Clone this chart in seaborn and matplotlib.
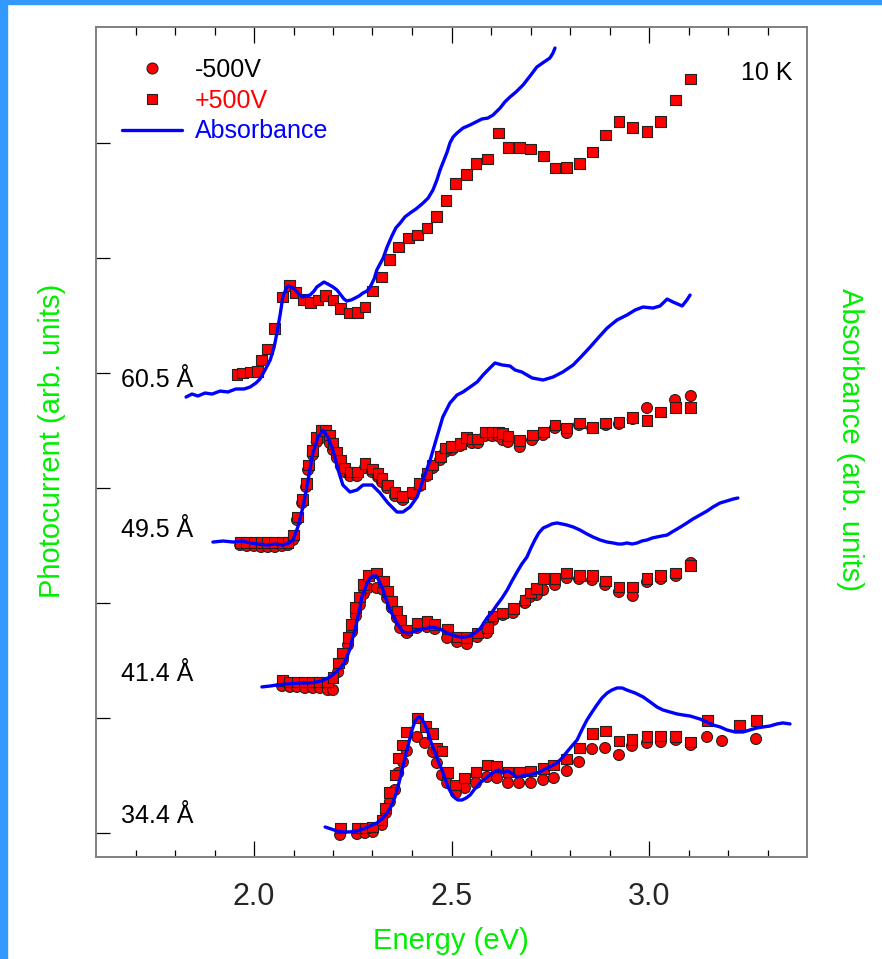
import numpy as np
import pandas as pd
import matplotlib
matplotlib.use("Agg")
import matplotlib.pyplot as plt
from matplotlib.lines import Line2D
from matplotlib.patches import Rectangle
from matplotlib.ticker import FormatStrFormatter
import seaborn as sns

# ---------------- data (energy in eV, signal in arb. units, curves offset) ----------------
E60_abs = [1.828,1.843,1.858,1.876,1.894,1.914,1.934,1.954,1.975,1.990,
           2.005,2.015,2.028,2.041,2.051,2.058,2.066,2.073,2.081,2.086,
           2.094,2.099,2.109,2.122,2.132,2.142,2.152,2.159,2.170,2.177,
           2.187,2.200,2.210,2.218,2.228,2.235,2.246,2.256,2.266,2.276,
           2.286,2.294,2.304,2.311,2.319,2.327,2.337,2.349,2.359,2.370,
           2.382,2.395,2.410,2.428,2.441,2.453,2.463,2.471,2.478,2.489,
           2.496,2.504,2.514,2.529,2.547,2.562,2.577,2.592,2.605,2.623,
           2.635,2.648,2.663,2.681,2.699,2.716,2.734,2.749,2.757,2.762]
Y60_abs = [3.791,3.817,3.800,3.826,3.817,3.843,3.835,3.861,3.861,3.878,
           3.913,3.948,4.026,4.113,4.226,4.348,4.504,4.661,4.730,4.757,
           4.748,4.739,4.704,4.661,4.670,4.678,4.713,4.748,4.774,4.791,
           4.774,4.748,4.722,4.687,4.643,4.626,4.635,4.652,4.670,4.696,
           4.713,4.748,4.817,4.896,4.948,5.000,5.096,5.191,5.261,5.304,
           5.357,5.391,5.426,5.478,5.522,5.591,5.678,5.765,5.826,5.922,
           6.000,6.052,6.087,6.130,6.157,6.183,6.209,6.217,6.243,6.304,
           6.357,6.400,6.443,6.504,6.583,6.661,6.704,6.739,6.783,6.826]

E60_pts = [1.957,1.972,1.990,2.008,2.020,2.035,2.053,2.071,2.089,2.106,
           2.124,2.144,2.162,2.180,2.200,2.220,2.241,2.261,2.281,2.301,
           2.322,2.344,2.367,2.390,2.413,2.438,2.461,2.486,2.511,2.537,
           2.562,2.590,2.618,2.643,2.671,2.701,2.732,2.762,2.792,2.825,
           2.856,2.891,2.924,2.959,2.995,3.030,3.068,3.106]
Y60_plus = [3.983,4.000,4.009,4.017,4.113,4.209,4.383,4.661,4.757,4.704,
            4.643,4.617,4.635,4.678,4.635,4.557,4.522,4.530,4.574,4.713,
            4.835,4.991,5.096,5.174,5.200,5.261,5.357,5.504,5.652,5.730,
            5.826,5.861,6.087,5.965,5.965,5.948,5.887,5.783,5.791,5.826,
            5.922,6.070,6.191,6.139,6.104,6.191,6.374,6.557]

E49_abs = [1.896,1.922,1.947,1.970,1.990,2.010,2.033,2.053,2.073,2.089,
           2.099,2.111,2.124,2.137,2.149,2.162,2.175,2.187,2.200,2.213,
           2.225,2.243,2.261,2.276,2.299,2.319,2.339,2.362,2.377,2.395,
           2.413,2.428,2.446,2.463,2.478,2.496,2.514,2.529,2.547,2.565,
           2.580,2.597,2.610,2.628,2.648,2.661,2.678,2.704,2.732,2.757,
           2.782,2.808,2.830,2.851,2.871,2.894,2.919,2.944,2.965,2.985,
           3.010,3.028,3.046,3.061,3.084,3.096,3.104]
Y49_abs = [2.530,2.539,2.530,2.539,2.522,2.513,2.504,2.513,2.504,2.522,
           2.548,2.661,2.835,3.070,3.304,3.443,3.504,3.443,3.330,3.157,
           3.026,2.965,2.983,3.026,3.026,2.957,2.870,2.791,2.791,2.835,
           2.922,3.070,3.243,3.443,3.617,3.739,3.809,3.835,3.878,3.922,
           3.983,4.043,4.087,4.070,4.061,4.026,4.009,3.957,3.939,3.965,
           4.009,4.070,4.148,4.226,4.304,4.391,4.461,4.504,4.548,4.574,
           4.565,4.583,4.643,4.617,4.583,4.635,4.678]

E49_pts = [1.965,1.982,2.000,2.018,2.035,2.053,2.071,2.086,2.099,2.109,
           2.122,2.132,2.137,2.149,2.159,2.170,2.182,2.192,2.200,2.210,
           2.220,2.230,2.243,2.261,2.281,2.299,2.314,2.324,2.337,2.357,
           2.377,2.400,2.420,2.438,2.453,2.471,2.484,2.501,2.522,2.539,
           2.552,2.567,2.585,2.603,2.618,2.630,2.643,2.673,2.704,2.732,
           2.762,2.792,2.823,2.856,2.891,2.924,2.959,2.995,3.030,3.066,
           3.106]
Y49_plus = [2.530,2.530,2.530,2.522,2.522,2.522,2.522,2.530,2.591,2.748,
            2.896,3.043,3.200,3.330,3.443,3.504,3.504,3.461,3.391,3.313,
            3.243,3.174,3.139,3.139,3.209,3.165,3.130,3.087,3.026,2.957,
            2.922,2.965,3.043,3.130,3.200,3.270,3.348,3.357,3.391,3.443,
            3.426,3.426,3.487,3.487,3.487,3.470,3.452,3.417,3.461,3.487,
            3.548,3.522,3.565,3.530,3.565,3.574,3.609,3.583,3.661,3.704,
            3.696]
Y49_minus = [2.504,2.496,2.496,2.487,2.487,2.487,2.496,2.504,2.548,2.722,
             2.870,3.009,3.157,3.287,3.400,3.443,3.435,3.391,3.330,3.261,
             3.191,3.139,3.104,3.104,3.174,3.139,3.096,3.052,3.000,2.930,
             2.896,2.948,3.017,3.104,3.174,3.243,3.313,3.330,3.365,3.409,
             3.391,3.391,3.452,3.452,3.452,3.417,3.400,3.357,3.417,3.461,
             3.522,3.478,3.548,3.522,3.548,3.557,3.600,3.696,np.nan,3.765,
             3.800]

E41_abs = [2.020,2.041,2.058,2.086,2.116,2.137,2.159,2.177,2.192,2.205,
           2.218,2.228,2.235,2.243,2.248,2.256,2.261,2.268,2.273,2.281,
           2.286,2.294,2.299,2.309,2.314,2.319,2.327,2.332,2.339,2.344,
           2.354,2.362,2.370,2.377,2.390,2.403,2.415,2.428,2.441,2.451,
           2.461,2.471,2.484,2.496,2.509,2.522,2.534,2.547,2.559,2.572,
           2.590,2.603,2.615,2.628,2.641,2.653,2.666,2.678,2.691,2.701,
           2.711,2.721,2.732,2.744,2.754,2.767,2.780,2.792,2.808,2.825,
           2.843,2.858,2.876,2.894,2.909,2.922,2.932,2.944,2.957,2.970,
           2.982,2.995,3.008,3.020,3.033,3.046,3.058,3.071,3.084,3.096,
           3.111,3.129,3.147,3.162,3.180,3.197,3.213,3.225]
Y41_abs = [1.270,1.278,1.287,1.296,1.304,1.304,1.313,1.330,1.357,1.391,
           1.435,1.478,1.530,1.600,1.678,1.765,1.852,1.957,2.052,2.122,
           2.174,2.217,2.235,2.235,2.209,2.174,2.113,2.052,1.991,1.939,
           1.878,1.826,1.783,1.748,1.739,1.748,1.765,1.774,1.783,1.791,
           1.783,1.774,1.748,1.730,1.713,1.704,1.704,1.713,1.739,1.774,
           1.870,1.922,1.983,2.043,2.113,2.191,2.270,2.339,2.400,2.478,
           2.548,2.609,2.652,2.670,2.687,2.696,2.687,2.678,2.661,2.635,
           2.600,2.574,2.548,2.530,2.522,2.513,2.513,2.522,2.513,2.522,
           2.539,2.548,2.565,2.574,2.583,2.591,2.617,2.643,2.670,2.696,
           2.730,2.765,2.800,2.835,2.870,2.887,2.904,2.913]

E41_pts = [2.071,2.091,2.109,2.129,2.149,2.167,2.187,2.200,2.213,2.225,
           2.238,2.248,2.258,2.268,2.278,2.289,2.311,2.327,2.337,2.349,
           2.362,2.370,2.387,2.413,2.438,2.458,2.489,2.514,2.539,2.565,
           2.590,2.605,2.630,2.656,2.686,2.699,2.716,2.732,2.762,2.792,
           2.823,2.856,2.889,2.924,2.959,2.995,3.030,3.068,3.106]
Y41_plus = [1.322,1.313,1.313,1.313,1.313,1.313,1.313,1.348,1.478,1.565,
            1.696,1.809,1.957,2.052,2.157,2.235,2.261,2.183,2.096,2.009,
            1.922,1.852,1.765,1.826,1.835,1.809,1.774,1.704,1.696,1.739,
            1.783,1.887,1.913,1.948,2.026,2.087,2.130,2.209,2.209,2.261,
            2.243,2.235,2.191,2.139,2.139,2.209,2.235,2.261,2.322]
Y41_minus = [1.278,1.270,1.270,1.261,1.261,1.261,1.243,1.243,1.400,1.504,
             1.635,1.748,1.887,1.983,2.078,2.130,2.130,2.113,2.043,1.957,
             1.870,1.783,1.739,1.783,1.791,1.774,1.696,1.661,1.643,1.704,
             1.739,1.852,1.896,1.913,2.000,2.052,2.070,2.113,2.157,2.217,
             2.209,2.200,2.157,2.096,2.061,2.183,2.209,2.235,2.348]

E34_abs = [2.180,2.195,2.210,2.225,2.243,2.261,2.276,2.294,2.311,2.324,
           2.337,2.347,2.357,2.365,2.375,2.382,2.387,2.395,2.400,2.408,
           2.413,2.420,2.425,2.433,2.441,2.448,2.458,2.466,2.476,2.484,
           2.491,2.501,2.509,2.516,2.527,2.537,2.547,2.559,2.572,2.585,
           2.597,2.608,2.618,2.630,2.641,2.648,2.658,2.666,2.678,2.691,
           2.706,2.724,2.737,2.749,2.767,2.780,2.792,2.805,2.818,2.830,
           2.843,2.856,2.868,2.881,2.894,2.906,2.919,2.932,2.944,2.965,
           2.985,3.003,3.020,3.035,3.053,3.071,3.086,3.104,3.129,3.147,
           3.162,3.180,3.197,3.218,3.238,3.256,3.273,3.289,3.306,3.324,
           3.339,3.357]
Y34_abs = [0.052,0.035,0.017,0.009,0.009,0.017,0.035,0.061,0.087,0.122,
           0.174,0.235,0.313,0.409,0.548,0.652,0.722,0.826,0.896,0.974,
           1.000,1.009,0.991,0.939,0.870,0.791,0.704,0.626,0.548,0.470,
           0.400,0.339,0.304,0.287,0.287,0.304,0.330,0.383,0.435,0.470,
           0.504,0.530,0.548,0.522,0.539,0.530,0.504,0.487,0.496,0.504,
           0.513,0.530,0.557,0.574,0.609,0.652,0.704,0.757,0.809,0.896,
           0.983,1.052,1.113,1.174,1.217,1.243,1.261,1.261,1.243,1.217,
           1.183,1.139,1.096,1.070,1.052,1.035,1.026,1.017,0.991,0.965,
           0.939,0.922,0.896,0.878,0.878,0.896,0.913,0.922,0.930,0.948,
           0.957,0.948]

E34_pts = [2.218,2.261,2.281,2.301,2.324,2.334,2.344,2.357,2.365,2.377,
           2.387,2.413,2.433,2.453,2.463,2.476,2.489,2.511,2.534,2.562,
           2.590,2.615,2.643,2.671,2.701,2.732,2.759,2.792,2.823,2.856,
           2.889,2.924,2.957,2.995,3.030,3.068,3.106,3.147,3.185,3.228,
           3.271]
Y34_plus = [0.043,0.043,0.043,0.052,0.113,0.217,0.348,0.504,0.652,0.765,
            0.878,1.000,0.922,0.861,0.739,0.713,0.522,0.417,0.478,0.530,
            0.591,0.574,0.530,0.530,0.539,0.557,0.591,0.643,0.739,0.861,
            0.887,0.800,0.809,0.835,0.843,0.835,0.791,0.974,np.nan,0.939,
            0.974]
Y34_minus = [-0.017,-0.009,0.000,0.009,0.070,0.174,0.270,0.374,0.522,0.617,
             0.713,0.835,0.783,0.704,0.609,0.504,0.435,0.348,0.391,0.435,
             0.487,0.478,0.435,0.435,0.435,0.461,0.478,0.539,0.617,0.730,
             0.739,0.678,0.757,0.783,0.791,0.809,0.765,0.835,0.800,np.nan,
             0.817]

sample_names = ["60.5 Å", "49.5 Å", "41.4 Å", "34.4 Å"]
label_y = [3.878, 2.574, 1.322, 0.087]
label_x = 1.663

# ---------------- tidy tables ----------------
abs_sets = [(E60_abs, Y60_abs), (E49_abs, Y49_abs), (E41_abs, Y41_abs), (E34_abs, Y34_abs)]
pt_sets = [(E60_pts, None, Y60_plus), (E49_pts, Y49_minus, Y49_plus),
           (E41_pts, Y41_minus, Y41_plus), (E34_pts, Y34_minus, Y34_plus)]

abs_df = pd.concat([pd.DataFrame({"energy": e, "signal": y, "sample": n})
                    for (e, y), n in zip(abs_sets, sample_names)], ignore_index=True)

rows = []
for (e, ym, yp), n in zip(pt_sets, sample_names):
    if ym is not None:
        rows.append(pd.DataFrame({"energy": e, "signal": ym, "bias": "-500V", "sample": n}))
for (e, ym, yp), n in zip(pt_sets, sample_names):
    rows.append(pd.DataFrame({"energy": e, "signal": yp, "bias": "+500V", "sample": n}))
pts_df = pd.concat(rows, ignore_index=True).dropna()

# ---------------- style ----------------
sns.set_style("white")
plt.rcParams["font.family"] = ["Liberation Sans", "DejaVu Sans"]

W, H = 882, 959
fig = plt.figure(figsize=(W / 100, H / 100), dpi=100)
fig.patches.append(Rectangle((0, 0), 7 / W, 1, transform=fig.transFigure,
                             color="#3399ff", zorder=-5))
fig.patches.append(Rectangle((0, 1 - 4 / H), 1, 4 / H, transform=fig.transFigure,
                             color="#3399ff", zorder=-5))
ax = fig.add_axes([96 / W, 1 - 857 / H, 711 / W, 830 / H])

RED = "#ff0000"
BLUE = "#0000ff"
GREEN = "#00ee00"

sns.scatterplot(data=pts_df, x="energy", y="signal", style="bias",
                markers={"-500V": "o", "+500V": "s"}, color=RED,
                edgecolor="#222222", linewidth=0.8, s=62, legend=False, ax=ax, zorder=2)
sns.lineplot(data=abs_df, x="energy", y="signal", units="sample", estimator=None,
             sort=False, color=BLUE, lw=2.4, legend=False, ax=ax, zorder=3)

ax.set_xlim(1.6, 3.4)
ax.set_ylim(-0.209, 7.009)
ax.set_xlabel("")
ax.set_ylabel("")

for sp in ax.spines.values():
    sp.set_color("#808080")
    sp.set_linewidth(1.4)

ax.set_xticks([2.0, 2.5, 3.0])
ax.set_xticks([1.7, 1.8, 1.9, 2.1, 2.2, 2.3, 2.4, 2.6, 2.7, 2.8, 2.9, 3.1, 3.2, 3.3], minor=True)
ax.xaxis.set_major_formatter(FormatStrFormatter("%.1f"))
ax.tick_params(axis="x", which="both", direction="in", top=True, bottom=True,
               color="black", width=0.9, labelsize=22, pad=18)
ax.tick_params(axis="x", which="major", length=11.5)
ax.tick_params(axis="x", which="minor", length=5.4)
ax.set_yticks(range(7))
ax.set_yticklabels([])
ax.tick_params(axis="y", which="both", direction="in", left=True, right=False,
               length=10, width=0.9, color="black")

for n, yb in zip(sample_names, label_y):
    ax.text(label_x, yb, n, fontsize=18, va="baseline", ha="left", color="black")

ax.text(0.979, 0.9446, "10 K", transform=ax.transAxes, fontsize=18,
        ha="right", va="center", color="black")

handles = [
    Line2D([], [], marker="o", ls="none", mfc=RED, mec="#222222", mew=0.8, ms=7.9),
    Line2D([], [], marker="s", ls="none", mfc=RED, mec="#222222", mew=0.8, ms=7.6),
    Line2D([], [], color=BLUE, lw=2.4),
]
leg = ax.legend(handles, ["-500V", "+500V", "Absorbance"], loc="upper left",
                bbox_to_anchor=(0.0366, 0.9627), frameon=False, fontsize=18,
                handlelength=2.4, handletextpad=0.5, labelspacing=0.27,
                borderpad=0, borderaxespad=0)
for t, c in zip(leg.get_texts(), ["black", RED, BLUE]):
    t.set_color(c)

fig.text(52 / W, 1 - 441 / H, "Photocurrent (arb. units)", rotation=90,
         ha="center", va="center", fontsize=21, color=GREEN)
fig.text(850 / W, 1 - 440 / H, "Absorbance (arb. units)", rotation=270,
         ha="center", va="center", fontsize=21, color=GREEN)
fig.text(451 / W, 1 - 941 / H, "Energy (eV)", ha="center", va="center",
         fontsize=21, color=GREEN)

fig.savefig("out.png", dpi=100)
